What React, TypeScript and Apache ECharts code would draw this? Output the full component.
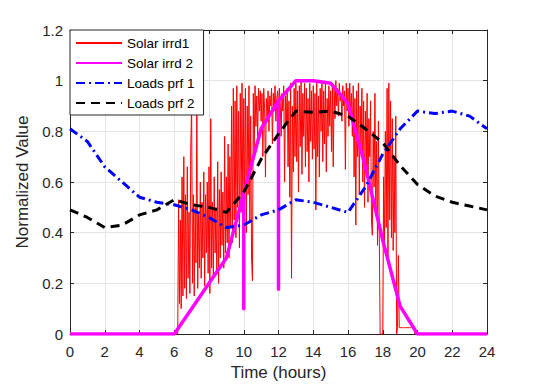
import React, { useEffect, useRef } from 'react';
import * as echarts from 'echarts';

// Hourly load profiles
const HOURS = [0, 1, 2, 3, 4, 5, 6, 7, 8, 9, 10, 11, 12, 13, 14, 15, 16, 17, 18, 19, 20, 21, 22, 23, 24];
const LOADS_PRF1 = [0.81, 0.76, 0.66, 0.6, 0.54, 0.52, 0.51, 0.49, 0.46, 0.42, 0.43, 0.47, 0.49, 0.53, 0.52, 0.5, 0.48, 0.58, 0.71, 0.81, 0.88, 0.87, 0.88, 0.86, 0.81];
const LOADS_PRF2 = [0.49, 0.46, 0.42, 0.43, 0.47, 0.49, 0.53, 0.51, 0.5, 0.48, 0.56, 0.69, 0.79, 0.88, 0.875, 0.88, 0.86, 0.81, 0.755, 0.665, 0.59, 0.545, 0.52, 0.505, 0.49];

// Solar irradiance 2 (hourly, with two short dips)
const SOLAR2_T = [0, 1, 2, 3, 4, 5, 6, 7, 8, 9, 10, 10, 10, 11, 12, 12, 12, 13, 14, 15, 16, 17, 18, 19, 20, 21, 22, 23, 24];
const SOLAR2_V = [0, 0, 0, 0, 0, 0, 0, 0.1, 0.2, 0.3, 0.555, 0.1, 0.555, 0.81, 0.92, 0.177, 0.92, 1.0, 1.0, 0.99, 0.91, 0.66, 0.37, 0.11, 0, 0, 0, 0, 0];

// Solar irradiance 1 (3-minute samples from 6:00 to 19:55)
const SOLAR1_START = 6.0;
const SOLAR1_STEP = 0.05;
const SOLAR1_V = [
  // 6h
  0, 0, 0, 0, 0, 0.53, 0.12, 0.45, 0.1, 0.62, 0.15, 0.7, 0.18, 0.55, 0.14, 0.66, 0.22, 0.48, 0.16, 0.74,
  // 7h
  0.9, 0.2, 0.55, 0.15, 0.5, 0.28, 0.88, 0.18, 0.47, 0.26, 0.6, 0.22, 0.52, 0.3, 0.64, 0.19, 0.55, 0.32, 0.6, 0.24,
  // 8h
  0.66, 0.16, 0.85, 0.26, 0.52, 0.22, 0.62, 0.32, 0.5, 0.24, 0.68, 0.2, 0.57, 0.3, 0.64, 0.35, 0.56, 0.26, 0.78, 0.32,
  // 9h
  0.62, 0.36, 0.75, 0.3, 0.7, 0.42, 0.9, 0.36, 0.97, 0.45, 0.92, 0.38, 0.98, 0.5, 0.88, 0.34, 0.95, 0.48, 0.99, 0.42,
  // 10h
  0.93, 0.52, 0.97, 0.4, 0.9, 0.55, 0.98, 0.45, 0.86, 0.3, 0.21, 0.95, 0.72, 0.98, 0.82, 0.94, 0.78, 0.97, 0.88, 0.96,
  // 11h
  0.84, 0.95, 0.7, 0.97, 0.89, 0.62, 0.93, 0.86, 0.96, 0.8, 0.94, 0.9, 0.97, 0.75, 0.95, 0.88, 0.98, 0.84, 0.93, 0.96,
  // 12h
  0.86, 0.97, 0.91, 0.78, 0.95, 0.88, 0.98, 0.6, 0.94, 0.83, 0.97, 0.66, 0.92, 0.54, 0.99, 0.22, 0.9, 0.64, 0.97, 0.7,
  // 13h
  0.99, 0.68, 0.96, 0.56, 0.98, 0.74, 1.0, 0.63, 0.95, 0.78, 0.99, 0.66, 0.97, 0.72, 0.93, 0.6, 0.99, 0.76, 0.96, 0.69,
  // 14h
  0.98, 0.73, 0.95, 0.49, 0.99, 0.7, 0.94, 0.62, 0.97, 0.8, 1.0, 0.68, 0.96, 0.75, 0.99, 0.64, 0.93, 0.78, 0.98, 0.82,
  // 15h
  0.96, 0.72, 0.99, 0.66, 0.97, 0.85, 1.0, 0.9, 0.97, 0.86, 0.99, 0.92, 0.95, 0.84, 0.98, 0.9, 0.96, 0.65, 0.99, 0.88,
  // 16h
  0.97, 0.82, 0.99, 0.86, 0.95, 0.78, 0.98, 0.62, 0.93, 0.43, 0.96, 0.7, 0.99, 0.55, 0.9, 0.74, 0.97, 0.6, 0.92, 0.5,
  // 17h
  0.88, 0.66, 0.95, 0.52, 0.85, 0.7, 0.92, 0.45, 0.39, 0.8, 0.58, 0.95, 0.48, 0.76, 0.35, 0.84, 0.4, 0, 0, 0,
  // 18h
  0, 0.62, 0.35, 0.8, 0.42, 0.97, 0.3, 0.99, 0.45, 0.92, 0.38, 0.85, 0.33, 0.7, 0.4, 0.86, 0, 0.025, 0.31, 0.025,
  // 19h
  0.025, 0.025, 0.025, 0.025, 0.025, 0.025, 0.025, 0.025, 0.025, 0.025, 0.025, 0.025, 0.025, 0.025, 0.025, 0.025, 0.025, 0, 0, 0,
];

const X_TICKS = { min: 0, max: 24, interval: 2 };
const Y_TICKS = { min: 0, max: 1.2, interval: 0.2 };

const FONT = '"Liberation Sans", Arial, Helvetica, sans-serif';
const AXIS_COLOR = '#262626';
const GRID_COLOR = '#e4e4e4';

export default function App() {
  const ref = useRef<HTMLDivElement>(null);

  useEffect(() => {
    if (!ref.current) return;
    const chart = echarts.init(ref.current, undefined, { renderer: 'svg' });

    const solar1Data: number[][] = [[0, 0]];
    SOLAR1_V.forEach((v, i) => solar1Data.push([+(SOLAR1_START + i * SOLAR1_STEP).toFixed(2), v]));
    solar1Data.push([24, 0]);
    const solar2Data = SOLAR2_T.map((t, i) => [t, SOLAR2_V[i]]);
    const load1Data = HOURS.map((h, i) => [h, LOADS_PRF1[i]]);
    const load2Data = HOURS.map((h, i) => [h, LOADS_PRF2[i]]);

    const axisLine = { show: true, onZero: false, lineStyle: { color: AXIS_COLOR, width: 1 } };
    const axisTick = { show: true, inside: true, length: 4, lineStyle: { color: AXIS_COLOR, width: 1 } };

    chart.setOption({
      animation: false,
      backgroundColor: '#ffffff',
      textStyle: { fontFamily: FONT },
      grid: { left: 70, right: 51, top: 30, bottom: 51, containLabel: false },
      legend: {
        show: true,
        orient: 'vertical',
        left: 70,
        top: 30,
        padding: [6, 9, 5, 5],
        itemGap: 6,
        itemWidth: 46,
        itemHeight: 14,
        backgroundColor: '#ffffff',
        borderColor: AXIS_COLOR,
        borderWidth: 1,
        borderRadius: 0,
        itemStyle: { opacity: 0 },
        textStyle: { fontSize: 13.5, color: '#000000', fontFamily: FONT },
        data: ['Solar irrd1', 'Solar irrd 2', 'Loads prf 1', 'Loads prf 2'],
      },
      xAxis: [
        {
          type: 'value',
          position: 'bottom',
          ...X_TICKS,
          axisLine,
          axisTick,
          axisLabel: { color: AXIS_COLOR, fontSize: 15, margin: 10, fontFamily: FONT },
          splitLine: { show: true, lineStyle: { color: GRID_COLOR, width: 1 } },
          name: 'Time (hours)',
          nameLocation: 'middle',
          nameGap: 30,
          nameTextStyle: { fontSize: 17, color: AXIS_COLOR, fontFamily: FONT },
        },
        {
          type: 'value',
          position: 'top',
          ...X_TICKS,
          axisLine,
          axisTick,
          axisLabel: { show: false },
          splitLine: { show: false },
        },
      ],
      yAxis: [
        {
          type: 'value',
          position: 'left',
          ...Y_TICKS,
          axisLine,
          axisTick,
          axisLabel: { color: AXIS_COLOR, fontSize: 15, margin: 7, fontFamily: FONT },
          splitLine: { show: true, lineStyle: { color: GRID_COLOR, width: 1 } },
          name: 'Normalized Value',
          nameLocation: 'middle',
          nameGap: 29,
          nameTextStyle: { fontSize: 17, color: AXIS_COLOR, fontFamily: FONT },
        },
        {
          type: 'value',
          position: 'right',
          ...Y_TICKS,
          axisLine,
          axisTick,
          axisLabel: { show: false },
          splitLine: { show: false },
        },
      ],
      series: [
        {
          name: 'Solar irrd1',
          type: 'line',
          data: solar1Data,
          showSymbol: false,
          symbol: 'none',
          color: '#ff0000',
          lineStyle: { color: '#ff0000', width: 1 },
          z: 2,
        },
        {
          name: 'Solar irrd 2',
          type: 'line',
          data: solar2Data,
          showSymbol: false,
          symbol: 'none',
          color: '#ff00ff',
          lineStyle: { color: '#ff00ff', width: 3.5, join: 'round' },
          z: 3,
        },
        {
          name: 'Loads prf 1',
          type: 'line',
          data: load1Data,
          showSymbol: false,
          symbol: 'none',
          color: '#0000ff',
          lineStyle: { color: '#0000ff', width: 3, type: [9, 4, 2, 4] },
          z: 4,
        },
        {
          name: 'Loads prf 2',
          type: 'line',
          data: load2Data,
          showSymbol: false,
          symbol: 'none',
          color: '#000000',
          lineStyle: { color: '#000000', width: 3, type: [9, 6] },
          z: 5,
        },
      ],
    });

    return () => chart.dispose();
  }, []);

  return <div ref={ref} style={{ width: 538, height: 386, position: 'absolute', left: 0, top: 0 }} />;
}
